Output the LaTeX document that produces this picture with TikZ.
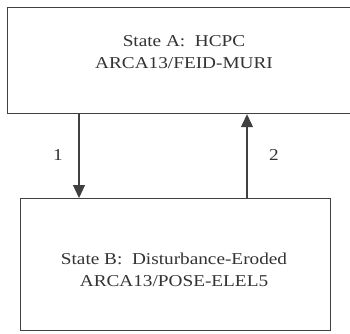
\documentclass[tikz,border=0pt]{standalone}
\usepackage{fontspec}
\setmainfont{Liberation Serif}[FakeStretch=1.16]
\usetikzlibrary{arrows.meta}
\begin{document}
\begin{tikzpicture}[x=1pt,y=-1pt,
  box/.style={draw=black!75,line width=1.2pt,inner sep=0pt},
  conn/.style={draw=black!75,line width=1.1pt,-{Triangle[length=13pt,width=12pt]}},
  lbl/.style={font=\fontsize{16.6}{22}\selectfont,text=black!80,align=center},
  num/.style={font=\fontsize{16.6}{20}\selectfont,text=black!80}]
\useasboundingbox (0,0) rectangle (350,333);
\clip (0,0) rectangle (350,333);
\fill[white] (0,0) rectangle (350,333);
\node[box,minimum width=345pt,minimum height=106pt,anchor=north west] (A) at (7,7) {};
\node[box,minimum width=310pt,minimum height=132pt,anchor=north west] (B) at (20,198) {};
\node[lbl] (tA) at (184,52) {State A:\ \ HCPC\\ARCA13/FEID-MURI};
\node[lbl] (tB) at (174,270) {State B:\ \ Disturbance-Eroded\\ARCA13/POSE-ELEL5};
\coordinate (a1) at (79,113);
\coordinate (b1) at (79,198);
\coordinate (a2) at (247,113);
\coordinate (b2) at (247,198);
\draw[conn] (A.south west -| a1) -- (B.north west -| b1);
\draw[conn] (B.north west -| b2) -- (A.south west -| a2);
\node[num] (n1) at (58,155) {1};
\node[num] (n2) at (274,155) {2};
\end{tikzpicture}
\end{document}
